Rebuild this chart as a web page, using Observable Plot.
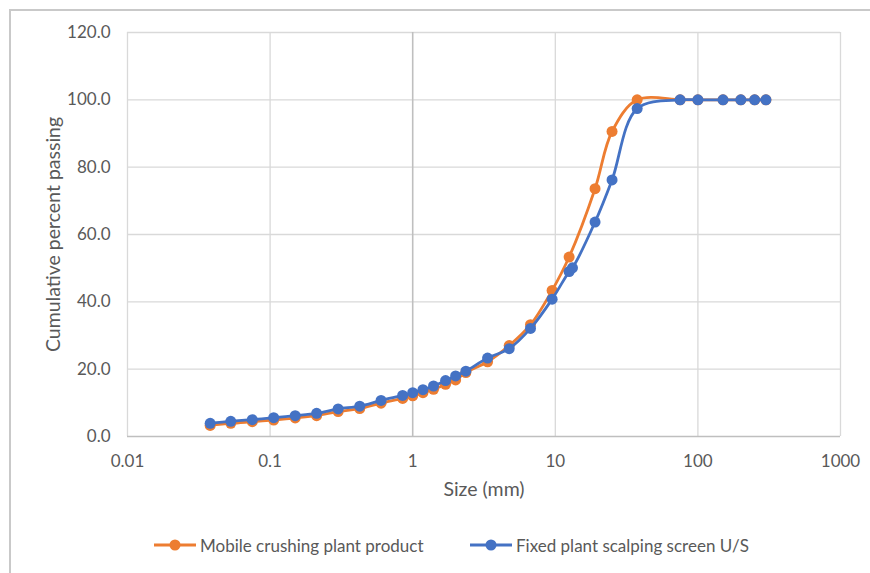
<!DOCTYPE html>
<html><head><meta charset="utf-8">
<script src="https://cdn.jsdelivr.net/npm/d3@7"></script>
<script src="https://cdn.jsdelivr.net/npm/@observablehq/plot@0.6"></script>
<style>
body{margin:0;background:#fff;font-family:Lato,"Open Sans",sans-serif;color:#595959;}
#wrap{position:relative;width:870px;height:573px;overflow:hidden;background:#fff;}
#frameT{position:absolute;left:9px;top:9px;width:861px;height:2px;background:#c9c9c9;z-index:2}
#frameL{position:absolute;left:9px;top:9px;width:2px;height:564px;background:#c9c9c9;z-index:2}
#legend{position:relative;height:53px;width:870px;font-size:17px;}
.item{position:absolute;top:15px;height:20px;display:flex;align-items:center;}
.item span{margin-left:4px;}
</style></head>
<body>
<div id="wrap">
<div id="frameT"></div><div id="frameL"></div>
<div id="chart"></div>
<div id="legend"></div>
</div>
<script>
const seriesNames = ["Mobile crushing plant product", "Fixed plant scalping screen U/S"];
const seriesColors = ["#ED7D31", "#4472C4"];

const sizesMobile = [0.038,0.053,0.075,0.106,0.15,0.212,0.3,0.425,0.6,0.85,1.0,1.18,1.4,1.7,2.0,2.36,3.35,4.75,6.7,9.5,12.5,19,25,37.5,75,100,150,200,250,300];
const passingMobile = [3.3,3.9,4.4,4.9,5.5,6.2,7.4,8.3,9.9,11.3,12.1,13.0,14.0,15.5,16.8,19.0,22.2,27.0,33.2,43.4,53.3,73.6,90.6,100,100,100,100,100,100,100];

const sizesFixed = [0.038,0.053,0.075,0.106,0.15,0.212,0.3,0.425,0.6,0.85,1.0,1.18,1.4,1.7,2.0,2.36,3.35,4.75,6.7,9.5,12.5,13.2,19,25,37.5,75,100,150,200,250,300];
const passingFixed = [3.9,4.5,5.0,5.6,6.2,6.9,8.2,9.0,10.7,12.2,13.0,13.9,15.0,16.6,18.0,19.4,23.3,26.1,32.1,40.8,49.0,50.1,63.7,76.2,97.4,100,100,100,100,100,100];

const xTicks = [0.01,0.1,1,10,100,1000];
const yTicks = [0,20,40,60,80,100,120];

const mobile = sizesMobile.map((s,i)=>({size:s, pass:passingMobile[i]}));
const fixed = sizesFixed.map((s,i)=>({size:s, pass:passingFixed[i]}));

const txt = "#595959";
const chart = Plot.plot({
  width: 870, height: 520,
  marginLeft: 127, marginRight: 30, marginTop: 32, marginBottom: 84,
  style: {fontFamily: "Lato, 'Open Sans', sans-serif", fontSize: "17px", color: txt, background: "transparent"},
  x: {type: "log", domain: [0.01, 1000]},
  y: {domain: [0, 120]},
  marks: [
    Plot.ruleY(yTicks.slice(1), {stroke: "#d9d9d9", strokeWidth: 1.3}),
    Plot.ruleX(xTicks.filter(d => d !== 1), {stroke: "#d9d9d9", strokeWidth: 1.3}),
    Plot.ruleX([1], {stroke: "#bfbfbf", strokeWidth: 1.6}),
    Plot.ruleY([0], {stroke: "#bfbfbf", strokeWidth: 1.6}),
    Plot.axisX({ticks: xTicks, tickFormat: d => String(d), tickSize: 0, tickPadding: 18, label: null, fill: txt, fontSize: 17}),
    Plot.axisY({ticks: yTicks, tickFormat: d => d.toFixed(1), tickSize: 0, tickPadding: 17, label: null, fill: txt, fontSize: 17}),
    Plot.line(mobile, {x: "size", y: "pass", stroke: seriesColors[0], strokeWidth: 2.8, curve: "catmull-rom"}),
    Plot.dot(mobile, {x: "size", y: "pass", fill: seriesColors[0], r: 5.5}),
    Plot.line(fixed, {x: "size", y: "pass", stroke: seriesColors[1], strokeWidth: 2.8, curve: "catmull-rom"}),
    Plot.dot(fixed, {x: "size", y: "pass", fill: seriesColors[1], r: 5.5}),
    Plot.text(["Size (mm)"], {frameAnchor: "bottom", dy: 59, fill: txt, fontSize: 19.5}),
    Plot.text(["Cumulative percent passing"], {frameAnchor: "left", textAnchor: "middle", dx: -74, rotate: -90, fill: txt, fontSize: 19.5})
  ]
});
document.getElementById("chart").appendChild(chart);

const legend = d3.select("#legend");
const lx = [154, 470];
seriesNames.forEach((name, i) => {
  const it = legend.append("div").attr("class", "item").style("left", lx[i] + "px");
  const sv = it.append("svg").attr("width", 42).attr("height", 14);
  sv.append("line").attr("x1", 0).attr("x2", 42).attr("y1", 7).attr("y2", 7).attr("stroke", seriesColors[i]).attr("stroke-width", 2.8);
  sv.append("circle").attr("cx", 21).attr("cy", 7).attr("r", 5.5).attr("fill", seriesColors[i]);
  it.append("span").text(name);
});
</script>
</body></html>
